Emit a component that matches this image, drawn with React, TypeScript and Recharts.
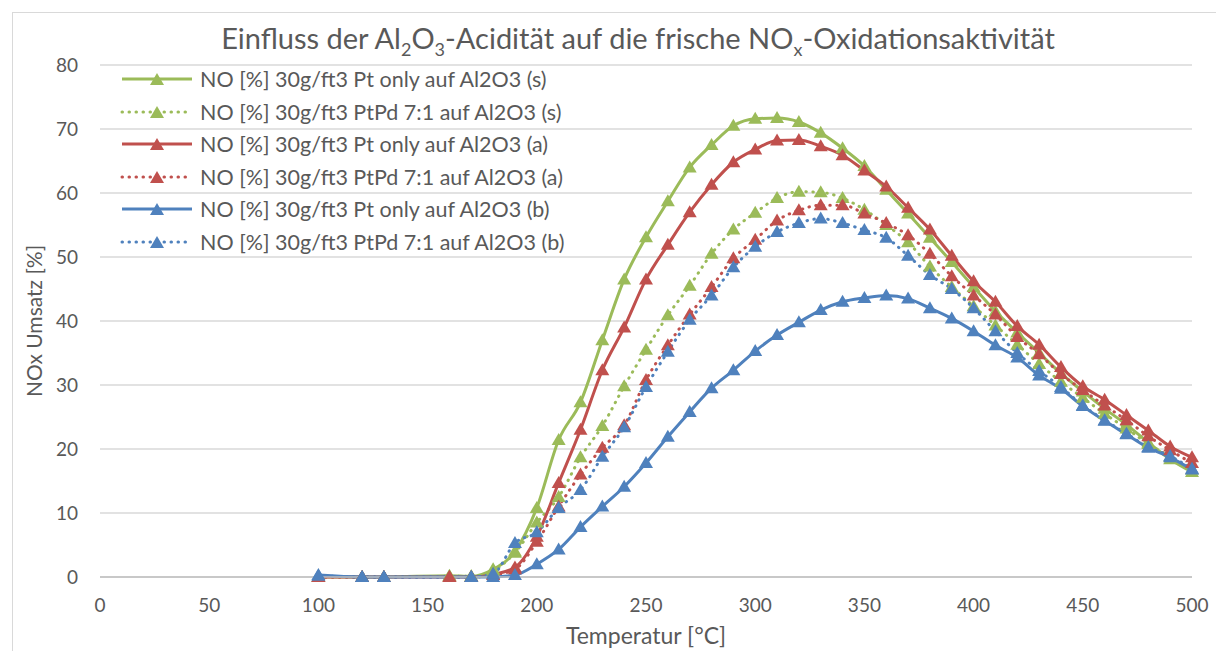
import React from "react";
import { LineChart, Line, XAxis, YAxis, CartesianGrid } from "recharts";

const temps = [100, 120, 130, 160, 170, 180, 190, 200, 210, 220, 230, 240, 250, 260, 270, 280, 290, 300, 310, 320, 330, 340, 350, 360, 370, 380, 390, 400, 410, 420, 430, 440, 450, 460, 470, 480, 490, 500];

const ptS = [0, 0, 0, 0.2, 0.1, 1.2, 4.0, 10.8, 21.4, 27.3, 37, 46.5, 53.1, 58.7, 64, 67.5, 70.5, 71.6, 71.7, 71.1, 69.4, 67, 64.2, 60.5, 56.8, 53, 49.2, 45.3, 41.5, 38.2, 35, 31.8, 29, 26.3, 23.8, 21, 18.4, 16.4];
const ptpdS = [0, 0, 0, 0.1, 0.1, 1.0, 3.8, 8.5, 12.5, 18.7, 23.6, 29.8, 35.5, 40.9, 45.5, 50.5, 54.3, 56.9, 59.2, 60.2, 60.1, 59.2, 57.4, 55, 52.3, 48.5, 45.3, 42.3, 39.3, 36.3, 33.3, 30.5, 28, 25.5, 23.2, 20.8, 18.8, 16.8];
const ptA = [0, 0, 0, 0, 0, 0.4, 1.5, 6.3, 14.7, 23, 32.3, 39, 46.5, 51.9, 57, 61.3, 64.8, 66.8, 68.2, 68.3, 67.3, 65.9, 63.5, 61, 57.7, 54.3, 50.2, 46.2, 43, 39.2, 36.3, 32.8, 29.8, 27.7, 25.3, 22.9, 20.4, 18.7];
const ptpdA = [0, 0, 0, 0, 0, 0.3, 1.2, 5.5, 11, 16, 20.2, 23.7, 30.8, 36.2, 41, 45.3, 49.8, 52.7, 55.7, 57.3, 58.1, 58.1, 56.8, 55.3, 53.4, 50.5, 47, 44, 41, 37.5, 34.8, 31.7, 29.2, 26.8, 24.5, 22, 19.8, 17.8];
const ptB = [0.3, 0, 0, null, 0, 0, 0.3, 2.0, 4.3, 7.8, 11, 14.1, 17.8, 21.9, 25.8, 29.5, 32.3, 35.3, 37.8, 39.8, 41.7, 43, 43.6, 44, 43.5, 42, 40.4, 38.4, 36.2, 34.3, 31.5, 29.4, 26.7, 24.4, 22.3, 20.2, 18.7, 16.8];
const ptpdB = [0.2, 0, 0, null, 0, 0.5, 5.3, 7, 10.8, 13.6, 18.8, 23.4, 29.7, 35.2, 40.2, 44, 48.4, 51.6, 53.9, 55.3, 56, 55.3, 54.2, 53, 50.2, 47.2, 45, 42, 38.4, 35, 32.2, 29.7, 26.8, 24.5, 22.4, 20.3, 18.9, 16.9];

const xTicks = [0, 50, 100, 150, 200, 250, 300, 350, 400, 450, 500];
const yTicks = [0, 10, 20, 30, 40, 50, 60, 70, 80];

const GREEN = "#9bbb59";
const RED = "#c0504d";
const BLUE = "#4f81bd";
const TEXT = "#595959";
const FONT = "Lato, 'Open Sans', sans-serif";

const series = [
  { key: "ptS", name: "NO [%] 30g/ft3 Pt only auf Al2O3 (s)", color: GREEN, dotted: false },
  { key: "ptpdS", name: "NO [%] 30g/ft3 PtPd 7:1 auf Al2O3 (s)", color: GREEN, dotted: true },
  { key: "ptA", name: "NO [%] 30g/ft3 Pt only auf Al2O3 (a)", color: RED, dotted: false },
  { key: "ptpdA", name: "NO [%] 30g/ft3 PtPd 7:1 auf Al2O3 (a)", color: RED, dotted: true },
  { key: "ptB", name: "NO [%] 30g/ft3 Pt only auf Al2O3 (b)", color: BLUE, dotted: false },
  { key: "ptpdB", name: "NO [%] 30g/ft3 PtPd 7:1 auf Al2O3 (b)", color: BLUE, dotted: true },
];

const data = temps.map((t, i) => ({
  t,
  ptS: ptS[i],
  ptpdS: ptpdS[i],
  ptA: ptA[i],
  ptpdA: ptpdA[i],
  ptB: ptB[i],
  ptpdB: ptpdB[i],
}));

const triPath = (cx: number, cy: number) =>
  `M${cx},${cy - 7} L${cx + 7},${cy + 5} L${cx - 7},${cy + 5} Z`;

const makeDot = (color: string) => (props: any) => {
  const { cx, cy, index } = props;
  if (cx == null || cy == null || props.value == null) return <g key={"e" + index} />;
  return <path key={"d" + index} d={triPath(cx, cy)} fill={color} />;
};

function Legend() {
  return (
    <div style={{ position: "absolute", left: 120, top: 63 }}>
      {series.map((s) => (
        <div key={s.key} style={{ display: "flex", alignItems: "center", height: 32.5 }}>
          <svg width={74} height={16}>
            <line
              x1={2}
              y1={8}
              x2={72}
              y2={8}
              stroke={s.color}
              strokeWidth={3}
              strokeDasharray={s.dotted ? "0.5 6.5" : undefined}
              strokeLinecap={s.dotted ? "round" : "butt"}
            />
            <path d={triPath(37, 9)} fill={s.color} />
          </svg>
          <span style={{ marginLeft: 6, fontSize: 21.5, color: TEXT, whiteSpace: "nowrap" }}>{s.name}</span>
        </div>
      ))}
    </div>
  );
}

export default function App() {
  return (
    <div style={{ position: "fixed", left: 0, top: 0, width: 1216, height: 651, background: "#fff", fontFamily: FONT, overflow: "hidden" }}>
      <div style={{ position: "absolute", left: 12, top: 12, width: 1220, height: 660, border: "1px solid #d9d9d9" }} />
      <LineChart
        width={1216}
        height={651}
        data={data}
        margin={{ top: 65, right: 24, bottom: 44, left: 40 }}
        style={{ position: "absolute", left: 0, top: 0 }}
      >
        <CartesianGrid vertical={false} stroke="#d9d9d9" strokeWidth={1.5} />
        <XAxis
          dataKey="t"
          type="number"
          domain={[0, 500]}
          ticks={xTicks}
          height={30}
          tickLine={false}
          tickSize={0}
          tickMargin={22}
          axisLine={{ stroke: "#bfbfbf", strokeWidth: 1.5 }}
          tick={{ fill: TEXT, fontSize: 19, fontFamily: FONT }}
        />
        <YAxis
          type="number"
          domain={[0, 80]}
          ticks={yTicks}
          width={60}
          tickLine={false}
          tickSize={0}
          tickMargin={22}
          axisLine={false}
          tick={{ fill: TEXT, fontSize: 19, fontFamily: FONT }}
        />
        {series.map((s) => (
          <Line
            key={s.key}
            dataKey={s.key}
            name={s.name}
            type="monotone"
            stroke={s.color}
            strokeWidth={3}
            strokeDasharray={s.dotted ? "0.5 6.5" : undefined}
            strokeLinecap={s.dotted ? "round" : "butt"}
            connectNulls
            dot={makeDot(s.color)}
            activeDot={false}
            isAnimationActive={false}
          />
        ))}
      </LineChart>
      <Legend />
      <div style={{ position: "absolute", left: 0, width: 1276, top: 20, textAlign: "center", fontSize: 29, color: TEXT, whiteSpace: "nowrap" }}>
        Einfluss der Al<sub style={{ fontSize: 18 }}>2</sub>O<sub style={{ fontSize: 18 }}>3</sub>-Acidität auf die frische NO<sub style={{ fontSize: 18 }}>x</sub>-Oxidationsaktivität
      </div>
      <div style={{ position: "absolute", left: 496, width: 300, top: 621, textAlign: "center", fontSize: 23, color: TEXT }}>
        Temperatur [°C]
      </div>
      <div style={{ position: "absolute", left: 33, top: 321, transform: "translate(-50%, -50%) rotate(-90deg)", fontSize: 21, color: TEXT, whiteSpace: "nowrap" }}>
        NOx Umsatz [%]
      </div>
    </div>
  );
}
